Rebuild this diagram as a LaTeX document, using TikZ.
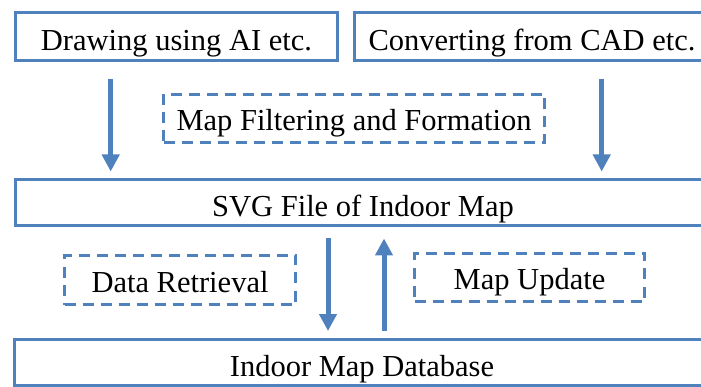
\documentclass[tikz,border=0pt]{standalone}
\usepackage{fontspec}
\setmainfont{Liberation Serif}
\usetikzlibrary{arrows.meta}
\definecolor{boxblue}{HTML}{4F81BD}

\begin{document}
\begin{tikzpicture}[x=1pt,y=-1pt,
  every node/.style={inner sep=0pt, font=\fontsize{30.5}{32}\selectfont, text=black},
  solidbox/.style={draw=boxblue, line width=3pt, fill=white, text height=28pt, text depth=0pt},
  dashbox/.style={draw=boxblue, line width=3pt, dash pattern=on 11pt off 7pt, text height=24.5pt, text depth=0pt},
  flow/.style={draw=boxblue, line width=5pt, -{Triangle[length=17pt,width=17pt]}}]

\useasboundingbox (0,0) rectangle (701,387);
\clip (0,0) rectangle (701,387);

% sources
\node[solidbox, minimum width=322pt, minimum height=48pt] (ai) at (176.5,36.5) {Drawing using AI etc.};
\node[solidbox, minimum width=355pt, minimum height=48pt] (cad) at (532,36.5) {Converting from CAD etc.};

% processing step
\node[dashbox, minimum width=381pt, minimum height=48pt] (filter) at (354,118.5) {Map Filtering and Formation};

% central file
\node[solidbox, minimum width=695pt, minimum height=46pt] (svg) at (363,202.5) {SVG File of Indoor Map};

% exchange with the database
\node[dashbox, minimum width=231pt, minimum height=49pt] (retr) at (180,280) {Data Retrieval};
\node[dashbox, minimum width=230pt, minimum height=48pt] (upd) at (529.5,277.5) {Map Update};

\node[solidbox, minimum width=695pt, minimum height=46pt] (db) at (362,362) {Indoor Map Database};

% arrow columns
\coordinate (c1) at (110.7,0);
\coordinate (c2) at (601.7,0);
\coordinate (c3) at (328,0);
\coordinate (c4) at (384,0);

\draw[flow] ([yshift=-17.5pt]ai.south -| c1) -- ([yshift=6.5pt]svg.north -| c1);
\draw[flow] ([yshift=-17.5pt]cad.south -| c2) -- ([yshift=6.5pt]svg.north -| c2);
\draw[flow] ([yshift=-11.5pt]svg.south -| c3) -- ([yshift=6.5pt]db.north -| c3);
\draw[flow] ([yshift=6.5pt]db.north -| c4) -- ([yshift=-11.5pt]svg.south -| c4);
\end{tikzpicture}
\end{document}
